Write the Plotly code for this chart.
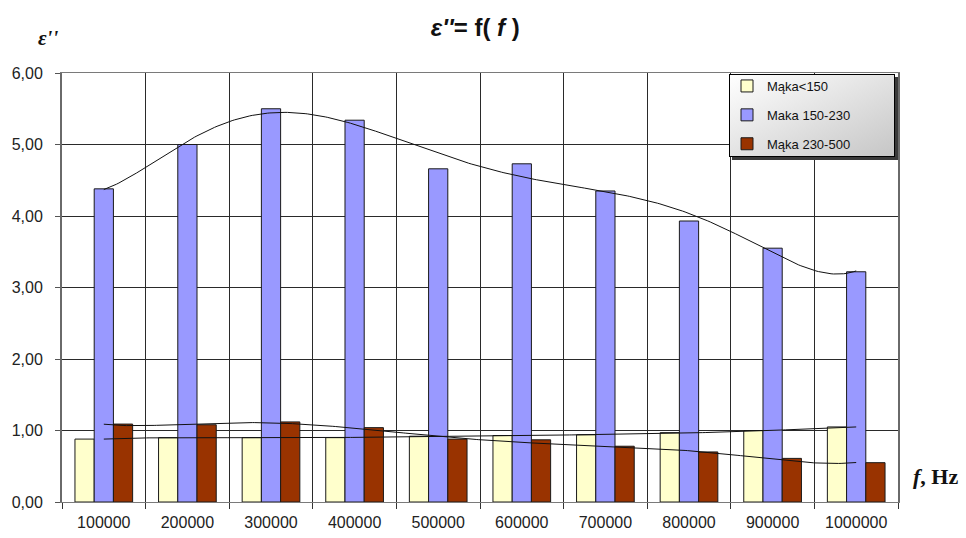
import base64
import numpy as np
import plotly.graph_objects as go

# Frequencies (Hz) and category labels
freqs = [100000, 200000, 300000, 400000, 500000, 600000, 700000, 800000, 900000, 1000000]
tick_labels = ["100000", "200000", "300000", "400000", "500000",
               "600000", "700000", "800000", "900000", "1000000"]

# Loss factor ε'' per flour fraction
maka_lt150 = [0.88, 0.90, 0.90, 0.90, 0.92, 0.93, 0.94, 0.97, 1.00, 1.05]
maka_150_230 = [4.38, 5.00, 5.50, 5.34, 4.66, 4.73, 4.35, 3.93, 3.55, 3.22]
maka_230_500 = [1.09, 1.08, 1.12, 1.04, 0.88, 0.87, 0.78, 0.70, 0.61, 0.55]

series_names = ["Mąka<150", "Maka 150-230", "Mąka 230-500"]
series_colors = ["#FFFFCC", "#9999FF", "#993300"]
series_values = [maka_lt150, maka_150_230, maka_230_500]

fig = go.Figure()

for i, (name, color, vals) in enumerate(zip(series_names, series_colors, series_values)):
    fig.add_trace(go.Bar(
        x=freqs, y=vals, name=name, legendgroup=f"g{i}",
        marker=dict(color=color, line=dict(color="#1a1a1a", width=1)),
    ))

# Polynomial (order 6) trend lines over the category index, drawn at category centres
idx = np.arange(1, len(freqs) + 1, dtype=float)
fine = np.linspace(1, len(freqs), 300)
step = freqs[1] - freqs[0]
for vals in series_values:
    coef = np.polyfit(idx, np.array(vals), 6)
    fig.add_trace(go.Scatter(
        x=freqs[0] + (fine - 1) * step, y=np.polyval(coef, fine),
        mode="lines", line=dict(color="#111111", width=1),
        showlegend=False, hoverinfo="skip",
    ))

# Legend box with diagonal gradient and drop shadow
svg = (
    '<svg xmlns="http://www.w3.org/2000/svg" width="170" height="87">'
    '<defs><linearGradient id="g" x1="0" y1="0" x2="1" y2="1">'
    '<stop offset="0" stop-color="#ffffff"/><stop offset="1" stop-color="#c6c6c6"/>'
    '</linearGradient></defs>'
    '<rect x="3" y="3" width="166" height="83" fill="#3a3a3a"/>'
    '<rect x="0.5" y="0.5" width="165" height="82" fill="url(#g)" stroke="#000" stroke-width="1"/>'
    '</svg>'
)
svg_uri = "data:image/svg+xml;base64," + base64.b64encode(svg.encode()).decode()

L, T, W, H = 62, 73, 836, 429  # plot area in pixels
def px(x):
    return (x - L) / W
def py(y):
    return (T + H - y) / H

fig.add_layout_image(dict(
    source=svg_uri, xref="paper", yref="paper",
    x=px(729), y=py(74), sizex=170 / W, sizey=87 / H,
    xanchor="left", yanchor="top", sizing="stretch", layer="above",
))

fig.update_layout(
    width=966, height=538,
    margin=dict(l=L, r=966 - L - W, t=T, b=538 - T - H),
    paper_bgcolor="white", plot_bgcolor="white",
    barmode="group", bargap=0.31, bargroupgap=0,
    separators=", ",
    font=dict(family="Liberation Sans, Arial, sans-serif", color="#1a1a1a"),
    title=dict(
        text="<b><i>ε''</i>= f( <i>f</i> )</b>",
        x=0.492, xanchor="center", y=1 - 28 / 538, yanchor="middle",
        font=dict(size=24, color="#111111"),
    ),
    legend=dict(
        x=px(727), y=py(71), xanchor="left", yanchor="top",
        bgcolor="rgba(0,0,0,0)", borderwidth=0,
        font=dict(size=13, color="#111111"),
        tracegroupgap=9, itemclick=False,
    ),
    xaxis=dict(
        range=[freqs[0] - step / 2, freqs[-1] + step / 2],
        tickmode="array", tickvals=freqs, ticktext=tick_labels,
        ticks="", showgrid=False, zeroline=False, automargin=False,
        showline=True, linecolor="#7a7a7a", linewidth=1, mirror=True,
        tickfont=dict(size=16, color="#222222"), ticklabelstandoff=6,
        minor=dict(tickmode="linear", tick0=freqs[0] - step / 2, dtick=step,
                   ticks="outside", ticklen=6, tickcolor="#333333",
                   showgrid=True, gridcolor="#2a2a2a", gridwidth=1),
    ),
    yaxis=dict(
        range=[0, 6], dtick=1, tickformat=".2f", automargin=False,
        ticks="outside", ticklen=5, tickcolor="#555555",
        showgrid=True, gridcolor="#2a2a2a", gridwidth=1, zeroline=False,
        showline=True, linecolor="#6a6a6a", linewidth=2, mirror=True,
        tickfont=dict(size=16, color="#222222"), ticklabelstandoff=9,
    ),
    annotations=[
        dict(text="<b><i>ε''</i></b>", xref="paper", yref="paper",
             x=px(48), y=py(38), xanchor="center", yanchor="middle",
             showarrow=False, font=dict(family="Liberation Serif, serif", size=21, color="#111111")),
        dict(text="<b><i>f</i>, Hz</b>", xref="paper", yref="paper",
             x=px(911), y=py(476), xanchor="left", yanchor="middle",
             showarrow=False, font=dict(family="Liberation Serif, serif", size=22, color="#111111")),
    ],
)

fig.write_html("out.html")
